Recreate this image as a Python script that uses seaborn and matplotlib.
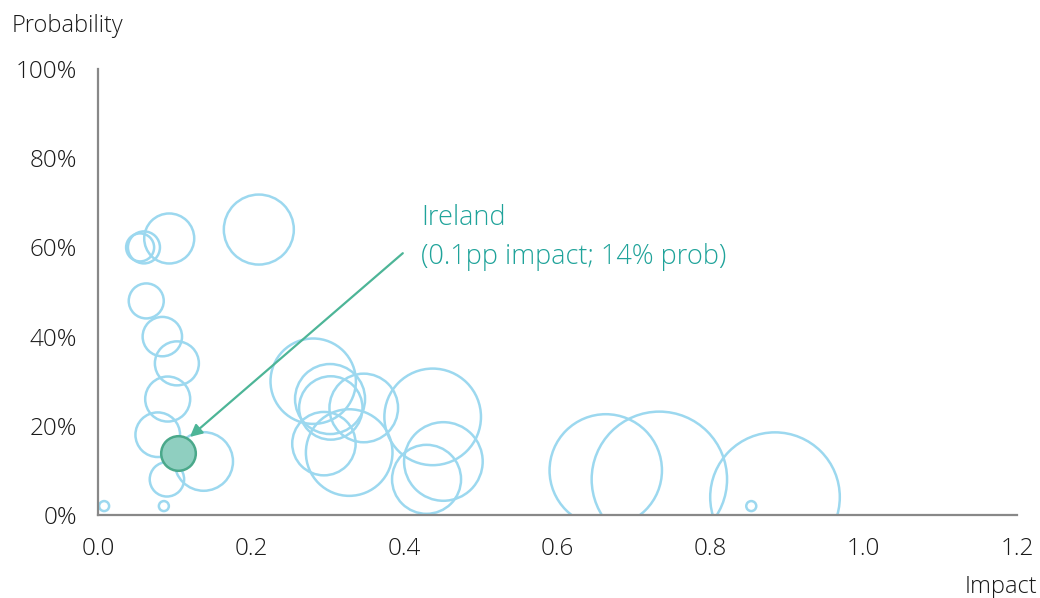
import matplotlib
matplotlib.use("Agg")
import matplotlib.pyplot as plt
import seaborn as sns
import numpy as np
import pandas as pd

# ---- data ----
impact = [0.008, 0.055, 0.060, 0.093, 0.210, 0.063, 0.084, 0.103, 0.091, 0.078,
          0.138, 0.090, 0.086, 0.281, 0.303, 0.304, 0.347, 0.295, 0.328, 0.437,
          0.451, 0.429, 0.663, 0.733, 0.884, 0.853]
probability = [2, 60, 60, 62, 64, 48, 40, 34, 26, 18,
               12, 8, 2, 30, 26, 24, 24, 16, 14, 22,
               12, 8, 10, 8, 4, 2]
weight = [5, 14, 16, 25, 35, 17.5, 19.7, 22, 22.5, 22.3,
          29.3, 17.2, 5, 42.7, 35, 31.7, 34.3, 31.7, 43.3, 48.3,
          39.3, 34.5, 56.2, 67.7, 64.8, 5]

ireland_impact = [0.105]
ireland_prob = [14]
ireland_weight = [17.3]

x_ticks = [0.0, 0.2, 0.4, 0.6, 0.8, 1.0, 1.2]
y_ticks = [0, 20, 40, 60, 80, 100]
annot_text = "Ireland\n(0.1pp impact; 14% prob)"

# ---- style ----
sns.set_style("white")
plt.rcParams['font.family'] = ['Open Sans', 'DejaVu Sans']
plt.rcParams['font.weight'] = 'light'

W, H, DPI = 10.4, 5.98, 100
fig = plt.figure(figsize=(W, H), dpi=DPI)
ax = fig.add_axes([98/1040, 1 - 515/598, (1017-98)/1040, (515-69)/598])

px2pt = 72 / DPI
def area(r):
    return (2 * r * px2pt) ** 2

df = pd.DataFrame({"impact": impact, "prob": probability,
                   "area": [area(w) for w in weight]})
dfi = pd.DataFrame({"impact": ireland_impact, "prob": ireland_prob,
                    "area": [area(w) for w in ireland_weight]})

amin, amax = df["area"].min(), df["area"].max()
sns.scatterplot(data=df, x="impact", y="prob", size="area",
                sizes=(amin, amax), size_norm=(amin, amax),
                facecolor="none", edgecolor="#9cd8ef", linewidth=1.8,
                legend=False, ax=ax)
sns.scatterplot(data=dfi, x="impact", y="prob", s=dfi["area"].iloc[0],
                color="#8fcfc0", edgecolor="#4aa88a", linewidth=1.8,
                legend=False, ax=ax, zorder=5)

ax.set_xlim(0, 1.2)
ax.set_ylim(0, 100)
ax.set_xticks(x_ticks)
ax.set_xticklabels([f"{t:.1f}" for t in x_ticks])
ax.set_yticks(y_ticks)
ax.set_yticklabels([f"{t}%" for t in y_ticks])

for s in ["top", "right"]:
    ax.spines[s].set_visible(False)
for s in ["left", "bottom"]:
    ax.spines[s].set_color("#888888")
    ax.spines[s].set_linewidth(1.6)
ax.tick_params(axis="both", which="both", direction="out", length=7, width=1.6,
               color="#888888", labelsize=17.5, labelcolor="#1a1a1a")
ax.tick_params(axis="x", pad=9)
ax.tick_params(axis="y", pad=8)
ax.set_xlabel("")
ax.set_ylabel("")

fig.text(12/1040, 1 - 26/598, "Probability", fontsize=17, color="#1a1a1a",
         ha="left", va="center")
fig.text(1037/1040, 1 - 587/598, "Impact", fontsize=17, color="#1a1a1a",
         ha="right", va="center")

ax.annotate("", xy=(0.12, 17.5), xytext=(0.398, 58.7),
            arrowprops=dict(arrowstyle="-|>", color="#4db597", lw=1.6,
                            mutation_scale=18, shrinkA=0, shrinkB=0))
ax.text(0.422, 62.2, annot_text, fontsize=19.5, color="#1fa39a",
        ha="left", va="center", linespacing=1.5)

fig.savefig("out.png", dpi=DPI)
